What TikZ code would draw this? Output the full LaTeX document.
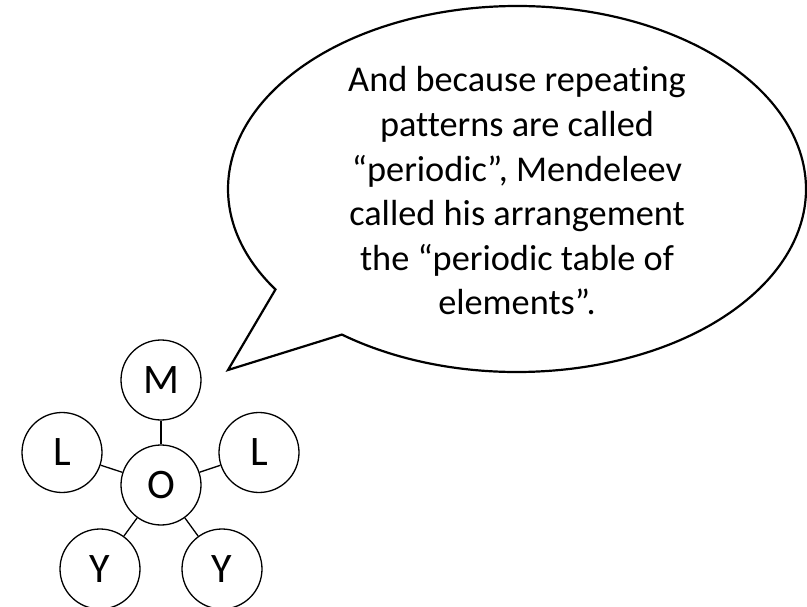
\documentclass[tikz,border=0pt]{standalone}
\usepackage{fontspec}
\setmainfont{Carlito}[Ligatures={NoCommon}]
\begin{document}
\begin{tikzpicture}[x=1pt,y=1pt,
  atom/.style={draw, line width=1.3pt, circle, minimum size=80pt, inner sep=0pt, font=\fontsize{42}{44}\selectfont},
  bond/.style={line width=1.3pt},
  bubble/.style={draw, line width=2.2pt, line join=miter, fill=white},
  speech/.style={align=center, font=\fontsize{36.3}{44.6}\selectfont, inner sep=0pt}]
\useasboundingbox (0,0) rectangle (807,-607);
% speech bubble
\coordinate (bc) at (517,-189);
\coordinate (tip) at (228,-370);
\draw[bubble] (bc) ++(232.7:289pt and 183pt)
  arc[start angle=232.7, end angle=573.3, x radius=289pt, y radius=183pt]
  -- (tip) -- cycle;
\node[speech] (txt) at (517,-191) {And because repeating\\patterns are called\\“periodic”, Mendeleev\\called his arrangement\\the “periodic table of\\elements”.};
% molecule
\node[atom] (O) at (161,-485) {O};
\node[atom] (M) at (161,-380) {M};
\node[atom] (L1) at (62,-452.5) {L};
\node[atom] (L2) at (259,-452.5) {L};
\node[atom] (Y1) at (100,-569) {Y};
\node[atom] (Y2) at (222,-569) {Y};
\foreach \n in {M,L1,L2,Y1,Y2} \draw[bond] (O) -- (\n);
\end{tikzpicture}
\end{document}
